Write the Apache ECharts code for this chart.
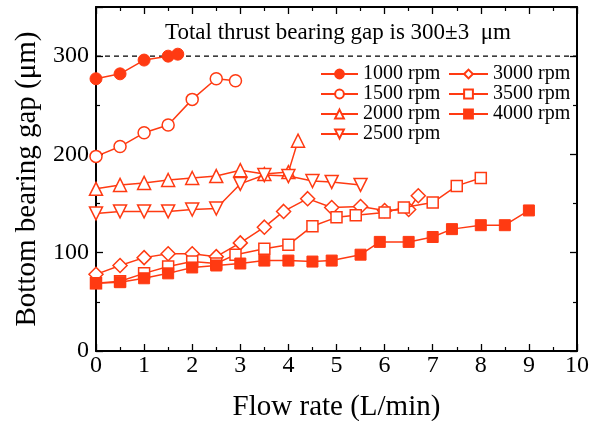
<!DOCTYPE html>
<html><head><meta charset="utf-8">
<script src="https://cdn.jsdelivr.net/npm/echarts@6/dist/echarts.min.js"></script>
<style>html,body{margin:0;padding:0;background:#fff}#c{width:602px;height:421px}</style>
</head><body><div id="c"></div>
<script>
const seriesNames = ['1000 rpm','1500 rpm','2000 rpm','2500 rpm','3000 rpm','3500 rpm','4000 rpm'];
const d1000 = [[0,277],[0.5,282],[1,296],[1.5,300],[1.7,302]];
const d1500 = [[0,198],[0.5,208],[1,222],[1.5,230],[2,256],[2.5,277],[2.9,275]];
const d2000 = [[0,165],[0.5,169],[1,171],[1.5,174],[2,176],[2.5,178],[3,184],[3.5,180],[4,182],[4.2,214]];
const d2500 = [[0,140],[0.5,142],[1,142],[1.5,142],[2,144],[2.5,145],[3,170],[3.5,179],[4,178],[4.5,173],[4.9,172],[5.5,169]];
const d3000 = [[0,78],[0.5,87],[1,95],[1.5,99],[2,99],[2.5,96],[3,110],[3.5,126],[3.9,142],[4.4,155],[4.9,146],[5.5,147],[6,143],[6.5,144],[6.7,158]];
const d3500 = [[0,69],[0.5,71],[1,79],[1.5,86],[2,91],[2.5,89],[2.9,98],[3.5,104],[4,108],[4.5,127],[5,136],[5.4,138],[6,141],[6.4,146],[7,151],[7.5,168],[8,176]];
const d4000 = [[0,69],[0.5,70],[1,74],[1.5,79],[2,85],[2.5,87],[3,89],[3.5,92],[4,92],[4.5,91],[4.9,92],[5.5,98],[5.9,111],[6.5,111],[7,116],[7.4,124],[8,128],[8.5,128],[9,143]];
const totalGap = 300;
const xTicks = [0,10];
const titleText = 'Total thrust bearing gap is 300±3  μm';

const RED = '#ff3a12';
const FONT = 'Liberation Serif';
const allData = [d1000,d1500,d2000,d2500,d3000,d3500,d4000];
const symbols = ['circle','circle','triangle','triangle','diamond','rect','rect'];
const filled = [true,false,false,false,false,false,true];
const rot = [0,0,0,180,0,0,0];
const sizes = [12,12,13,13,14,11,11];

const series = allData.map((d,i)=>({
  name: seriesNames[i], type:'line', data:d,
  symbol: symbols[i], symbolSize: sizes[i], symbolRotate: rot[i],
  showAllSymbol: true,
  lineStyle:{color:RED,width:1.5},
  itemStyle: filled[i] ? {color:RED,borderColor:RED,borderWidth:1} : {color:'#fff',borderColor:RED,borderWidth:1.5},
  emphasis:{disabled:true}, z: 3+i
}));
series.push({
  name:'gap', type:'line', data:[[xTicks[0],totalGap],[xTicks[1],totalGap]], symbol:'none',
  lineStyle:{color:'#000',width:1.3,type:[5,4]}, silent:true, z:2
});

const tickCommon = {inside:true, length:7, lineStyle:{color:'#000',width:1.3}};
const minorCommon = {show:true, splitNumber:2, length:4, lineStyle:{color:'#000',width:1.2}};
const lineCommon = {show:true, onZero:false, lineStyle:{color:'#000',width:2}};
const legendText = {fontFamily:FONT,fontSize:20,color:'#000'};

const chart = echarts.init(document.getElementById('c'));
chart.setOption({
  animation:false,
  grid:{left:96,right:25,top:7,bottom:70,containLabel:false,outerBoundsMode:'none'},
  textStyle:{fontFamily:FONT},
  legend:[
    {data:seriesNames.slice(0,4), orient:'vertical', left:320, top:64, padding:0, itemWidth:37, itemHeight:11, itemGap:0,
     textStyle:legendText, selectedMode:false},
    {data:seriesNames.slice(4), orient:'vertical', left:448, top:64, padding:0, itemWidth:39, itemHeight:11, itemGap:0,
     textStyle:legendText, selectedMode:false}
  ],
  graphic:[{type:'text', x:338, y:33, style:{text:titleText, fontFamily:FONT, fontSize:23, fill:'#000', textAlign:'center', textVerticalAlign:'middle'}}],
  xAxis:[
    {type:'value', min:0, max:10, interval:1, position:'bottom',
     name:'Flow rate (L/min)', nameLocation:'middle', nameGap:42,
     nameTextStyle:{fontFamily:FONT,fontSize:29,color:'#000'},
     axisLine:lineCommon, axisTick:tickCommon, minorTick:minorCommon,
     axisLabel:{fontFamily:FONT,fontSize:24,color:'#000',margin:3}, splitLine:{show:false}},
    {type:'value', min:0, max:10, interval:1, position:'top',
     axisLine:lineCommon, axisTick:tickCommon, minorTick:minorCommon,
     axisLabel:{show:false}, splitLine:{show:false}}
  ],
  yAxis:[
    {type:'value', min:0, max:350, interval:100, position:'left',
     name:'Bottom bearing gap (μm)', nameLocation:'middle', nameGap:54, nameRotate:90,
     nameTextStyle:{fontFamily:FONT,fontSize:29,color:'#000'},
     axisLine:lineCommon, axisTick:tickCommon, minorTick:minorCommon,
     axisLabel:{fontFamily:FONT,fontSize:24,color:'#000',margin:7, showMaxLabel:false}, splitLine:{show:false}},
    {type:'value', min:0, max:350, interval:100, position:'right',
     axisLine:lineCommon, axisTick:tickCommon, minorTick:minorCommon,
     axisLabel:{show:false}, splitLine:{show:false}}
  ],
  series: series
});
</script></body></html>
